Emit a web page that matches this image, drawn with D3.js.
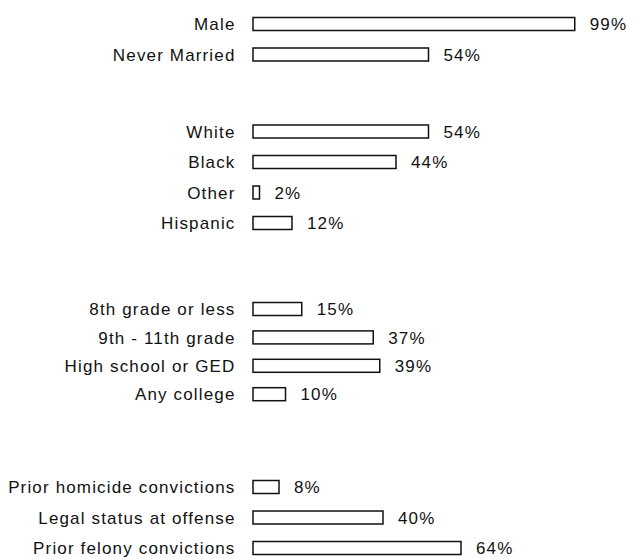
<!DOCTYPE html>
<html>
<head>
<meta charset="utf-8">
<script src="https://cdn.jsdelivr.net/npm/d3@7"></script>
<style>
  html, body { margin: 0; padding: 0; background: #fff; }
  svg { display: block; }
  text { font-family: "Liberation Sans", Arial, Helvetica, sans-serif; fill: #111; }
</style>
</head>
<body>
<svg id="chart" width="634" height="559"></svg>
<script>
// ---- data ----
const categories = [
  "Male", "Never Married",
  "White", "Black", "Other", "Hispanic",
  "8th grade or less", "9th - 11th grade", "High school or GED", "Any college",
  "Prior homicide convictions", "Legal status at offense", "Prior felony convictions"
];
const values = [99, 54, 54, 44, 2, 12, 15, 37, 39, 10, 8, 40, 64];
const groups = [0, 0, 1, 1, 1, 1, 2, 2, 2, 2, 3, 3, 3];
const valueLabels = ["99%", "54%", "54%", "44%", "2%", "12%", "15%", "37%", "39%", "10%", "8%", "40%", "64%"];

// ---- layout ----
const svg = d3.select("#chart");
const x = d3.scaleLinear().domain([0, 100]).range([253, 578]);
const groupTop = [24, 131.5, 309, 487];
const groupStep = [30.5, 30.5, 28.4, 30.5];
const barH = 13;

const rows = categories.map((c, i) => ({ cat: c, value: values[i], label: valueLabels[i], group: groups[i] }));

const yOf = d => {
  const members = rows.filter(r => r.group === d.group).map(r => r.cat);
  const n = members.length;
  const s = d3.scalePoint().domain(members)
    .range([groupTop[d.group], groupTop[d.group] + groupStep[d.group] * (n - 1)]);
  return s(d.cat);
};

const row = svg.selectAll("g.row").data(rows).join("g")
  .attr("class", "row")
  .attr("transform", d => `translate(0,${yOf(d)})`);

row.append("rect")
  .attr("x", x(0))
  .attr("y", -barH / 2)
  .attr("width", d => x(d.value) - x(0))
  .attr("height", barH)
  .attr("fill", "#fff")
  .attr("stroke", "#111")
  .attr("stroke-width", 1.5);

row.append("text")
  .attr("x", 235.5)
  .attr("y", 0)
  .attr("dy", "0.36em")
  .attr("text-anchor", "end")
  .style("font-size", "17px")
  .style("letter-spacing", "1.15px")
  .text(d => d.cat);

row.append("text")
  .attr("x", d => x(d.value) + 15)
  .attr("y", 0)
  .attr("dy", "0.36em")
  .style("font-size", "17px")
  .style("letter-spacing", "1.15px")
  .text(d => d.label);
</script>
</body>
</html>
